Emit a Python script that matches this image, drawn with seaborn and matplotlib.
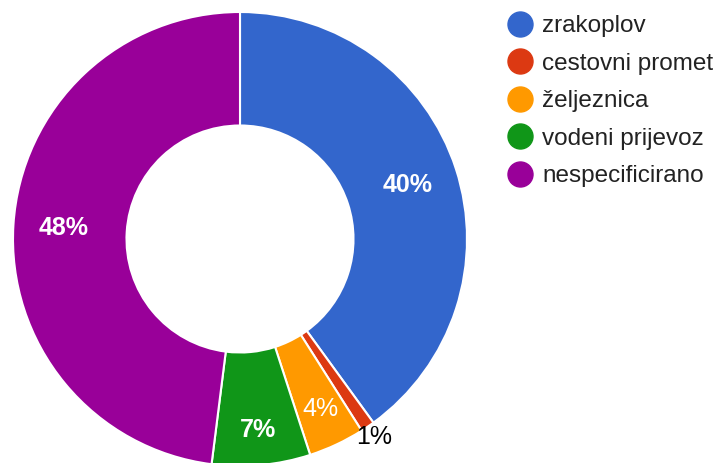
import numpy as np
import matplotlib
matplotlib.use("Agg")
import matplotlib.pyplot as plt
from matplotlib.lines import Line2D
import seaborn as sns

categories = ["zrakoplov", "cestovni promet", "željeznica", "vodeni prijevoz", "nespecificirano"]
values = [40, 1, 4, 7, 48]
colors = ["#3366CC", "#DC3912", "#FF9900", "#109618", "#990099"]

# label styling per slice
label_dist = [0.775, 1.055, 0.83, 0.845, 0.78]
label_color = ["white", "black", "white", "white", "white"]
label_weight = ["bold", "normal", "normal", "bold", "bold"]

sns.set_theme(style="white")
plt.rcParams["font.family"] = ["Liberation Sans", "DejaVu Sans"]

W, H = 718, 463
fig = plt.figure(figsize=(W / 100, H / 100), dpi=100)
fig.patch.set_facecolor("white")

cx, cy, R = 240, 239, 227
ax = fig.add_axes([(cx - R) / W, (H - cy - R) / H, 2 * R / W, 2 * R / H])
ax.axis("off")

wedges, _ = ax.pie(values, colors=colors, startangle=90, counterclock=False,
                   radius=1.0, wedgeprops=dict(width=0.5, edgecolor="white", linewidth=1.5),
                   frame=False)
ax.set_xlim(-1, 1)
ax.set_ylim(-1, 1)
ax.set_aspect("auto")

total = sum(values)
for w, v, d, c, fw in zip(wedges, values, label_dist, label_color, label_weight):
    ang = np.deg2rad((w.theta1 + w.theta2) / 2)
    x, y = d * np.cos(ang), d * np.sin(ang)
    ax.text(x, y, f"{round(100 * v / total)}%", ha="center", va="center",
            color=c, fontsize=18, fontweight=fw, clip_on=False)

handles = [Line2D([0], [0], marker="o", linestyle="none", markersize=18,
                  markerfacecolor=col, markeredgecolor=col) for col in colors]
leg = fig.legend(handles, categories, loc="upper left",
                 bbox_to_anchor=(508 / W, 1 - 15 / H), frameon=False,
                 fontsize=17.5, handlelength=1.0, handletextpad=0.4,
                 borderpad=0, borderaxespad=0, labelspacing=0.64)
for t in leg.get_texts():
    t.set_color("#222222")

fig.savefig("out.png", dpi=100, facecolor="white")
